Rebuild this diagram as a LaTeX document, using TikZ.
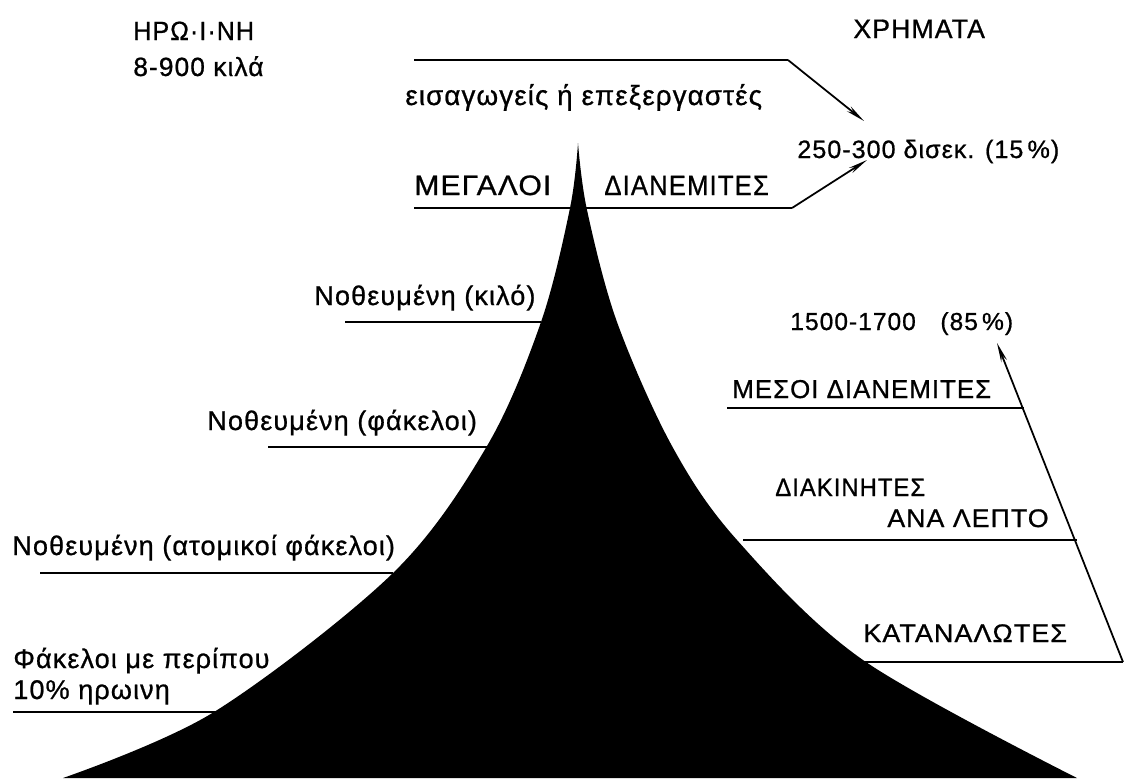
\documentclass[tikz,border=0pt]{standalone}
\usepackage{fontspec}
\setmainfont[LetterSpace=4,FakeBold=0.8]{Liberation Sans}
\usetikzlibrary{arrows.meta,positioning}

\begin{document}
\begin{tikzpicture}[
  x=0.02cm, y=-0.02cm,
  every node/.style={
    inner sep=0pt,
    anchor=base west,
    font=\fontsize{15.4}{17}\selectfont
  },
  lab/.style 2 args={font=\fontsize{#1}{#1}\selectfont\addfontfeature{FakeStretch=#2}},
  rule/.style={line width=1.2pt},
  arrow/.style={line width=1pt, -{Stealth[length=11pt,width=3.5pt]}}
]
\useasboundingbox (0,0) rectangle (1128,778);

% the pyramid
\fill[black] plot[smooth, tension=0.55] coordinates {
    (63,778) (214,712) (393,573) (487,446) (541,322) (570,208) (578,143)}
  -- plot[smooth, tension=0.55] coordinates {
    (578,143) (587,210) (617,322) (672,446) (737,540) (863,660) (1077,778)}
  -- cycle;

% headings
\node[lab={15}{0.95}] (heroin) at (133,40) {ΗΡΩ·Ι·ΝΗ};
\node[lab={15}{1}] (kilos) at (133,76) {8-900 κιλά};
\node[lab={15.2}{1}] (money) at (853,38) {ΧΡΗΜΑΤΑ};

% top level
\node[lab={15.8}{1}] (importers) at (405,105) {εισαγωγείς ή επεξεργαστές};
\node[lab={16}{1.07}] (bigdist) at (414,195) {ΜΕΓΑΛΟΙ};
\node[lab={15.9}{0.92}] (bigdist2) at (604,195) {ΔΙΑΝΕΜΙΤΕΣ};
\node[lab={14.3}{1}] (share15) at (797,158) {250-300 δισεκ. (15\,\%)};
\coordinate (topbend) at (788,60);
\coordinate (topend) at (864,121);
\coordinate (lowbend) at (792,208);
\coordinate (lowend) at (867,160);
\draw[rule] (414,60) -- (topbend);
\draw[arrow] (topbend) -- (topend);
\draw[rule] (414,208) -- (lowbend);
\draw[arrow] (lowbend) -- (lowend);

% left side
\node (cutkilo) at (314,305) {Νοθευμένη (κιλό)};
\node (cutpack) at (207,430) {Νοθευμένη (φάκελοι)};
\node (cutsingle) at (12,555) {Νοθευμένη (ατομικοί φάκελοι)};
\node (packs) at (13,668) {Φάκελοι με περίπου};
\node (packs2) at (13,699) {10\% ηρωινη};
\draw[rule] (345,322) -- (541,322);
\draw[rule] (268,447) -- (487,447);
\draw[rule] (40,573) -- (393,573);
\draw[rule] (13,712) -- (216,712);

% right side
\node[lab={14}{1}] (share85) at (790,330) {1500-1700\quad (85\,\%)};
\node[lab={14.7}{1}] (middist) at (732,398) {ΜΕΣΟΙ ΔΙΑΝΕΜΙΤΕΣ};
\node[lab={14.3}{0.95}] (dealers) at (775,496) {ΔΙΑΚΙΝΗΤΕΣ};
\node[lab={14.5}{1.05}] (dealers2) at (887,527) {ΑΝΑ ΛΕΠΤΟ};
\node[lab={14.5}{1.06}] (users) at (863,642) {ΚΑΤΑΝΑΛΩΤΕΣ};
\coordinate (rightfoot) at (1123,662);
\coordinate (rightend) at (997,343);
\draw[rule] (727,408) -- (1024,408);
\draw[rule] (743,540) -- (1077,540);
\draw[rule] (863,662) -- (rightfoot);
\draw[arrow] (rightfoot) -- (rightend);
\end{tikzpicture}
\end{document}
